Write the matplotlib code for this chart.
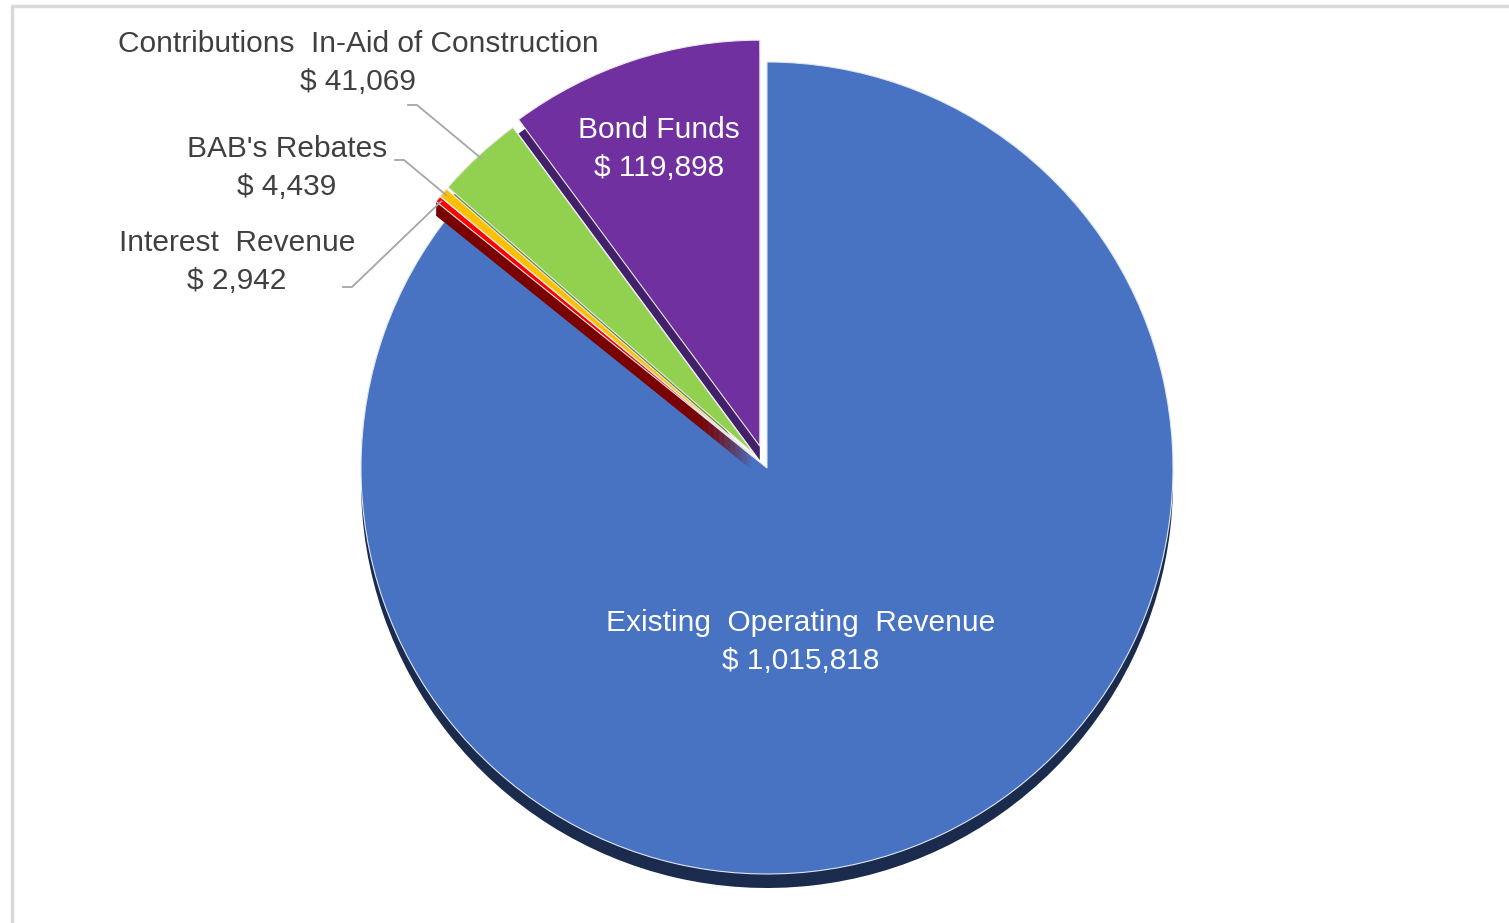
import numpy as np
import matplotlib.pyplot as plt
from matplotlib.patches import Wedge

# revenue sources (clockwise from 12 o'clock)
labels = ['Existing  Operating  Revenue', 'Interest  Revenue', "BAB's Rebates",
          'Contributions  In-Aid of Construction', 'Bond Funds']
values = [1015818, 2942, 4439, 41069, 119898]
value_txt = ['$ 1,015,818', '$ 2,942', '$ 4,439', '$ 41,069', '$ 119,898']
colors = ['#4773c2', '#ff0000', '#ffc000', '#92d050', '#7030a0']
side_colors = ['#1b2b4d', '#7a0000', '#a07800', '#5d8a2c', '#42206a']
explode = [0, 19, 19, 19, 23]   # offsets in pixels

plt.rcParams['font.family'] = ['Liberation Sans', 'DejaVu Sans']

W, H = 1509, 923
fig = plt.figure(figsize=(W / 100, H / 100), dpi=100)
ax = fig.add_axes([0, 0, 1, 1])

cx, cy = 767, H - 468
R = 406
depth = 14

frac = np.array(values) / sum(values)
th_start = 90 - 360 * np.concatenate([[0], np.cumsum(frac)[:-1]])
th_end = th_start - 360 * frac

# 3D side of the whole pie
ax.pie(frac, colors=side_colors, explode=explode, startangle=90, counterclock=False,
       radius=R, center=(cx, cy - depth), frame=True, wedgeprops=dict(linewidth=0))
# top of the big slice
ax.pie(frac[:1], normalize=False, colors=colors[:1], startangle=90, counterclock=False,
       radius=R, center=(cx, cy), frame=True,
       wedgeprops=dict(linewidth=0.8, edgecolor='#dfe6f3'))
# 3D side of the small red slice, visible over the big one
i = 1
mid = np.radians((th_start[i] + th_end[i]) / 2)
off = explode[i]
for d in range(1, depth + 1):
    ax.add_patch(Wedge((cx + off * np.cos(mid), cy - d + off * np.sin(mid)), R,
                       th_end[i], th_start[i], color=side_colors[i], lw=0))
# tops of the other slices
ax.pie(frac[1:], normalize=False, colors=colors[1:], explode=explode[1:],
       startangle=th_end[0], counterclock=False, radius=R, center=(cx, cy), frame=True,
       wedgeprops=dict(linewidth=0.8, edgecolor='#e8e8e8'))

txt_dark = '#404040'
fs = 21.5
# labels inside
ax.text(801, H - 623, labels[0], color='white', fontsize=fs, ha='center', va='center')
ax.text(801, H - 661, value_txt[0], color='white', fontsize=fs, ha='center', va='center')
ax.text(659, H - 130, labels[4], color='white', fontsize=fs, ha='center', va='center')
ax.text(659, H - 168, value_txt[4], color='white', fontsize=fs, ha='center', va='center')

# labels outside with leader lines
out = [(3, 358, 44, 408, 105), (2, 287, 149, 395, 160), (1, 237, 243, 343, 287)]
for i, lx, ly, sx, sy in out:
    ax.text(lx, H - ly, labels[i], color=txt_dark, fontsize=fs, ha='center', va='center')
    ax.text(lx, H - ly - 38, value_txt[i], color=txt_dark, fontsize=fs, ha='center', va='center')
    mid = np.radians((th_start[i] + th_end[i]) / 2)
    ex = cx + (explode[i] + R - 4) * np.cos(mid)
    ey = cy + (explode[i] + R - 4) * np.sin(mid)
    ax.plot([sx, sx + 9, ex], [H - sy, H - sy, ey], color='#a6a6a6', lw=1.3)

# chart frame
ax.plot([12, 12, W - 1], [0, H - 6, H - 6], color='#d9d9d9', lw=2.5)

ax.set_xlim(0, W)
ax.set_ylim(0, H)
ax.axis('off')
fig.savefig('out.png', dpi=100, facecolor='white')
